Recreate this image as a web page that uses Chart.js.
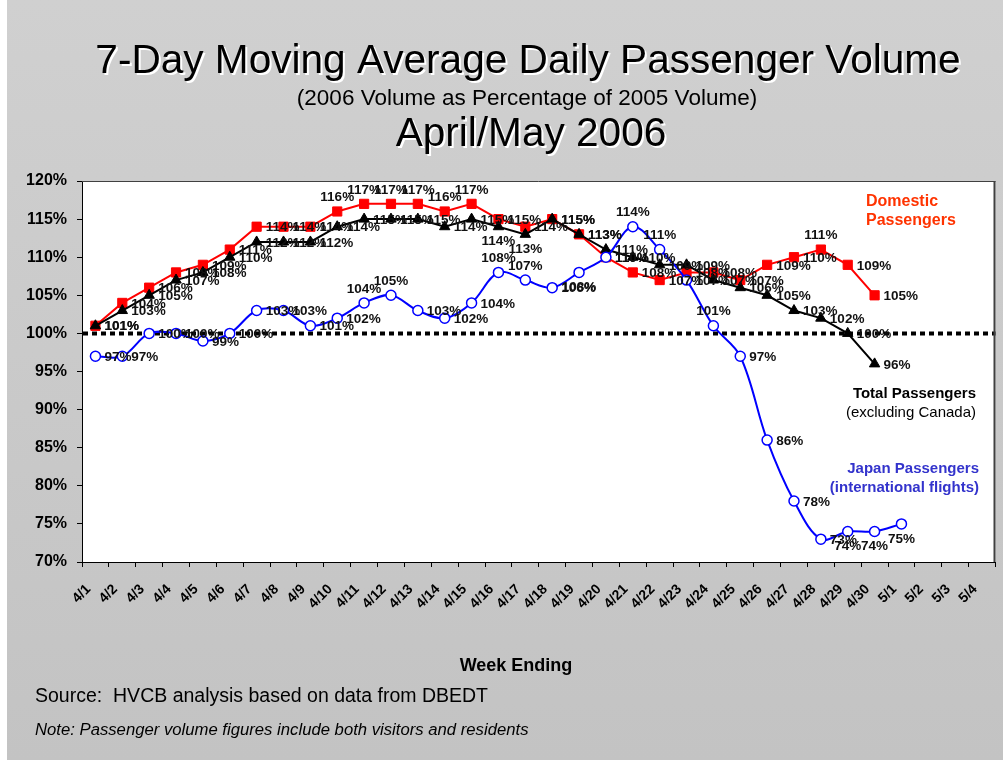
<!DOCTYPE html>
<html>
<head>
<meta charset="utf-8">
<title>7-Day Moving Average Daily Passenger Volume</title>
<script src="https://cdn.jsdelivr.net/npm/chart.js@4.4.1/dist/chart.umd.min.js"></script>
<style>
  html, body { margin: 0; padding: 0; background: #fff; }
  canvas { display: block; }
</style>
</head>
<body>
<canvas id="passengerChart" width="1003" height="760"></canvas>
<script>
// week ending dates on the x axis
const weekLabels = [
  '4/1', '4/2', '4/3', '4/4', '4/5', '4/6', '4/7', '4/8', '4/9', '4/10',
  '4/11', '4/12', '4/13', '4/14', '4/15', '4/16', '4/17', '4/18', '4/19', '4/20',
  '4/21', '4/22', '4/23', '4/24', '4/25', '4/26', '4/27', '4/28', '4/29', '4/30',
  '5/1', '5/2', '5/3', '5/4'
];

// 2006 volume as % of 2005 volume
const domesticPct = [101, 104, 106, 108, 109, 111, 114, 114, 114, 116,
  117, 117, 117, 116, 117, 115, 114, 115, 113, 110,
  108, 107, 108, 108, 107, 109, 110, 111, 109, 105];
const totalPct = [101, 103, 105, 107, 108, 110, 112, 112, 112, 114,
  115, 115, 115, 114, 115, 114, 113, 115, 113, 111,
  110, 109, 109, 107, 106, 105, 103, 102, 100, 96];
const japanPct = [97, 97, 100, 100, 99, 100, 103, 103, 101, 102,
  104, 105, 103, 102, 104, 108, 107, 106, 108, 110,
  114, 111, 107, 101, 97, 86, 78, 73, 74, 74, 75];

const yTicks = [70, 75, 80, 85, 90, 95, 100, 105, 110, 115, 120];

// where each value label sits: r = right, a = above, b = below
const domesticPlace = 'rrrrrrrrraaaaaarrrrrrrrrrrrarr';
const totalPlace = 'rrrrrrrrrrrrrrrbbrrrrrrrrrrrrr';
const japanPlace = 'rrrrrrrrrraarrraarbraararrrrbbbr';

const FONT = 'Arial, "Liberation Sans", sans-serif';

const backdrop = {
  id: 'backdrop',
  beforeDraw(chart) {
    const { ctx, width, height, chartArea: a } = chart;
    ctx.save();
    ctx.fillStyle = '#fff';
    ctx.fillRect(0, 0, width, height);
    const g = ctx.createLinearGradient(0, 0, 0, height);
    g.addColorStop(0, '#d0d0d0');
    g.addColorStop(1, '#c3c3c3');
    ctx.fillStyle = g;
    ctx.fillRect(7, 0, width - 7, height);
    ctx.fillStyle = '#fff';
    ctx.fillRect(a.left, a.top, a.right - a.left, a.bottom - a.top);
    ctx.restore();
  },
  beforeDatasetsDraw(chart) {
    const { ctx, chartArea: a } = chart;
    const y = chart.scales.y.getPixelForValue(100);
    ctx.save();
    ctx.strokeStyle = '#000';
    ctx.lineWidth = 4;
    ctx.setLineDash([5, 4]);
    ctx.beginPath();
    ctx.moveTo(a.left + 1, y);
    ctx.lineTo(a.right, y);
    ctx.stroke();
    ctx.restore();
  },
  afterDraw(chart) {
    const { ctx, chartArea: a } = chart;
    ctx.save();
    ctx.strokeStyle = '#404040';
    ctx.lineWidth = 1;
    ctx.beginPath();
    ctx.moveTo(a.left, a.top + 0.5);
    ctx.lineTo(a.right, a.top + 0.5);
    ctx.stroke();
    ctx.lineWidth = 2;
    ctx.beginPath();
    ctx.moveTo(a.right - 1, a.top);
    ctx.lineTo(a.right - 1, a.bottom);
    ctx.stroke();

    // titles with a light drop shadow
    ctx.textAlign = 'center';
    ctx.textBaseline = 'middle';
    ctx.fillStyle = '#000';
    ctx.shadowColor = '#fff';
    ctx.shadowOffsetX = 2;
    ctx.shadowOffsetY = 2;
    ctx.font = '40.6px ' + FONT;
    ctx.fillText('7-Day Moving Average Daily Passenger Volume', 528, 62);
    ctx.fillText('April/May 2006', 531, 135);
    ctx.shadowColor = 'transparent';
    ctx.font = '22.5px ' + FONT;
    ctx.fillText('(2006 Volume as Percentage of 2005 Volume)', 527, 99);

    ctx.font = 'bold 18px ' + FONT;
    ctx.fillText('Week Ending', 516, 666);

    ctx.textAlign = 'left';
    ctx.font = '19.5px ' + FONT;
    ctx.fillText('Source:  HVCB analysis based on data from DBEDT', 35, 697);
    ctx.font = 'italic 16.7px ' + FONT;
    ctx.fillText('Note: Passenger volume figures include both visitors and residents', 35, 730);

    // series notes inside the plot
    ctx.fillStyle = '#ff3300';
    ctx.font = 'bold 16px ' + FONT;
    ctx.fillText('Domestic', 866, 202);
    ctx.fillText('Passengers', 866, 221);

    ctx.textAlign = 'right';
    ctx.fillStyle = '#000';
    ctx.font = 'bold 15px ' + FONT;
    ctx.fillText('Total Passengers', 976, 394);
    ctx.font = '15px ' + FONT;
    ctx.fillText('(excluding Canada)', 976, 413);

    ctx.fillStyle = '#3333cc';
    ctx.font = 'bold 15px ' + FONT;
    ctx.fillText('Japan Passengers', 979, 469);
    ctx.fillText('(international flights)', 979, 488);
    ctx.restore();
  }
};

const pointLabels = {
  id: 'pointLabels',
  afterDatasetsDraw(chart) {
    const ctx = chart.ctx;
    ctx.save();
    ctx.font = 'bold 13.5px ' + FONT;
    ctx.fillStyle = '#111';
    ctx.textBaseline = 'middle';
    chart.data.datasets.forEach((ds, i) => {
      const meta = chart.getDatasetMeta(i);
      meta.data.forEach((pt, j) => {
        const v = ds.data[j];
        if (v == null) return;
        const place = ds.labelPlace[j] || 'r';
        const text = v + '%';
        if (place === 'a') {
          ctx.textAlign = 'center';
          ctx.fillText(text, pt.x, pt.y - 14);
        } else if (place === 'b') {
          ctx.textAlign = 'center';
          ctx.fillText(text, pt.x, pt.y + 15);
        } else {
          ctx.textAlign = 'left';
          ctx.fillText(text, pt.x + 9, pt.y + 1);
        }
      });
    });
    ctx.restore();
  }
};

new Chart(document.getElementById('passengerChart').getContext('2d'), {
  type: 'line',
  data: {
    labels: weekLabels,
    datasets: [
      {
        label: 'Japan Passengers',
        data: japanPct,
        labelPlace: japanPlace,
        borderColor: '#0000ff',
        borderWidth: 2,
        tension: 0.35,
        pointStyle: 'circle',
        pointRadius: 5,
        pointBackgroundColor: '#fff',
        pointBorderColor: '#0000ff',
        pointBorderWidth: 1.5
      },
      {
        label: 'Total Passengers',
        data: totalPct,
        labelPlace: totalPlace,
        borderColor: '#000',
        borderWidth: 2,
        tension: 0,
        pointStyle: 'triangle',
        pointRadius: 6,
        pointBackgroundColor: '#000',
        pointBorderColor: '#000',
        pointBorderWidth: 1
      },
      {
        label: 'Domestic Passengers',
        data: domesticPct,
        labelPlace: domesticPlace,
        borderColor: '#ff0000',
        borderWidth: 2,
        tension: 0,
        pointStyle: 'rect',
        pointRadius: 6.5,
        pointBackgroundColor: '#ff0000',
        pointBorderColor: '#ff0000',
        pointBorderWidth: 1
      }
    ]
  },
  options: {
    responsive: false,
    animation: false,
    layout: { padding: { top: 181, left: 0, right: 0, bottom: 138 } },
    plugins: {
      legend: { display: false },
      title: { display: false },
      tooltip: { enabled: false }
    },
    scales: {
      x: {
        offset: true,
        grid: { offset: true, drawOnChartArea: false, tickLength: 5, color: '#000' },
        border: { color: '#000', width: 1 },
        ticks: {
          autoSkip: false,
          minRotation: 45,
          maxRotation: 45,
          padding: 14,
          labelOffset: -7,
          color: '#000',
          font: { family: FONT, size: 14, weight: 'bold' }
        },
        afterFit(scale) {
          scale.height = 60;
          scale.paddingLeft = 0;
          scale.paddingRight = 0;
        }
      },
      y: {
        min: 70,
        max: 120,
        grid: { drawOnChartArea: false, tickLength: 5, color: '#000' },
        border: { color: '#000', width: 1 },
        ticks: {
          padding: 10,
          color: '#000',
          font: { family: FONT, size: 16, weight: 'bold' },
          callback: (v) => v + '%'
        },
        afterBuildTicks(scale) { scale.ticks = yTicks.map((v) => ({ value: v })); },
        afterFit(scale) {
          scale.width = 82;
          scale.paddingTop = 0;
          scale.paddingBottom = 0;
        }
      }
    }
  },
  plugins: [backdrop, pointLabels]
});
</script>
</body>
</html>
